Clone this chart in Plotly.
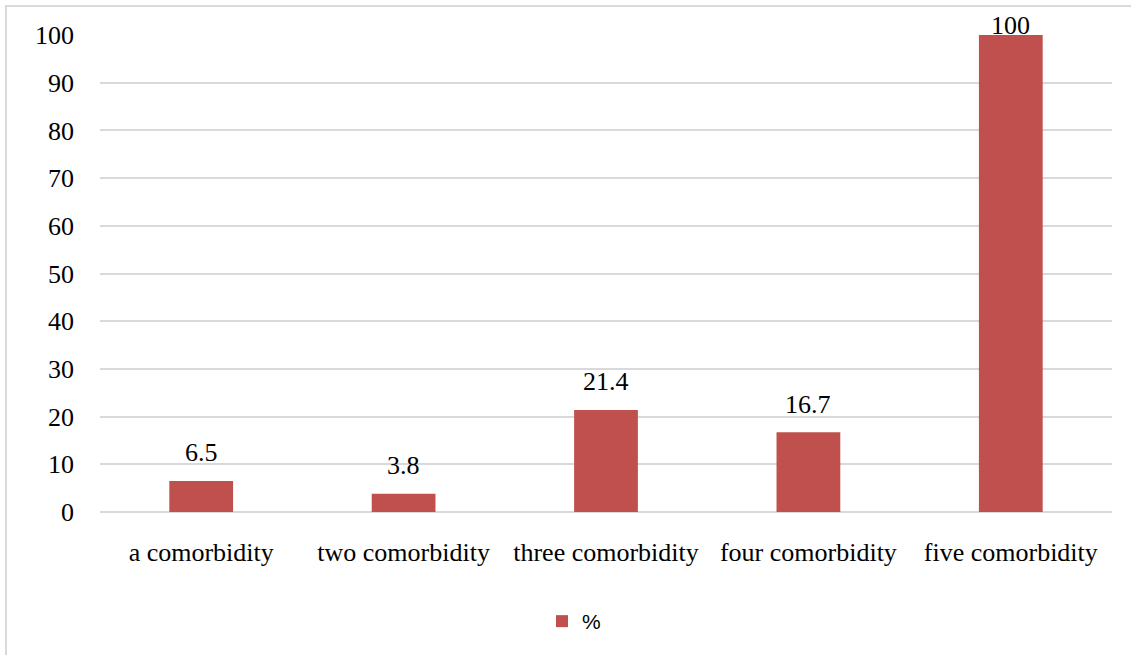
import plotly.graph_objects as go

categories = ["a comorbidity", "two comorbidity", "three comorbidity", "four comorbidity", "five comorbidity"]
percent = [6.5, 3.8, 21.4, 16.7, 100]
series_name = "%"
y_ticks = list(range(0, 101, 10))

W, H = 1131, 655
ML, MR, MT, MB = 100, 19, 35, 143
pw, ph = W - ML - MR, H - MT - MB
YMAX = 100
SERIF = "Liberation Serif, Times New Roman, serif"

fig = go.Figure(
    go.Bar(
        x=categories,
        y=percent,
        name=series_name,
        marker=dict(color="#C0504D", line=dict(width=0)),
        width=0.315,
        cliponaxis=False,
        showlegend=True,
    )
)

# value labels above each bar, kept inside the frame for the tallest bar
for cat, v in zip(categories, percent):
    room = (YMAX - v) * ph / YMAX
    fig.add_annotation(
        x=cat, y=v, xref="x", yref="y",
        text=f"{v:g}", showarrow=False,
        yanchor="middle", yshift=min(28, room + 10),
        font=dict(family=SERIF, size=26, color="#000000"),
    )

# light frame around the chart area (extends past the right/bottom edge)
fig.add_shape(
    type="rect", xref="paper", yref="paper",
    x0=(6 - ML) / pw, x1=(W + 20 - ML) / pw,
    y0=-(H + 20 - MT - ph) / ph, y1=(ph + MT - 6) / ph,
    line=dict(color="#D9D9D9", width=2), fillcolor="rgba(0,0,0,0)", layer="below",
)

fig.update_layout(
    width=W, height=H,
    margin=dict(l=ML, r=MR, t=MT, b=MB, autoexpand=False),
    paper_bgcolor="white", plot_bgcolor="white",
    font=dict(family=SERIF, size=26, color="#000000"),
    bargap=0.685,
    showlegend=True,
    legend=dict(
        orientation="h",
        x=(542 - ML) / pw, xanchor="left",
        y=-(601 - MT - ph) / ph, yanchor="top",
        font=dict(family="Liberation Sans, Arial, sans-serif", size=21, color="#000000"),
        bgcolor="rgba(0,0,0,0)",
    ),
    xaxis=dict(
        showgrid=False, showline=False, ticks="",
        tickfont=dict(family=SERIF, size=26),
        ticklabelstandoff=22,
    ),
    yaxis=dict(
        range=[0, YMAX], tickvals=y_ticks,
        showgrid=True, gridcolor="#D9D9D9", gridwidth=1.5,
        zeroline=True, zerolinecolor="#D9D9D9", zerolinewidth=1.5,
        showline=False, ticks="",
        tickfont=dict(family=SERIF, size=26),
        ticklabelstandoff=25,
    ),
)

fig.write_html("out.html")
